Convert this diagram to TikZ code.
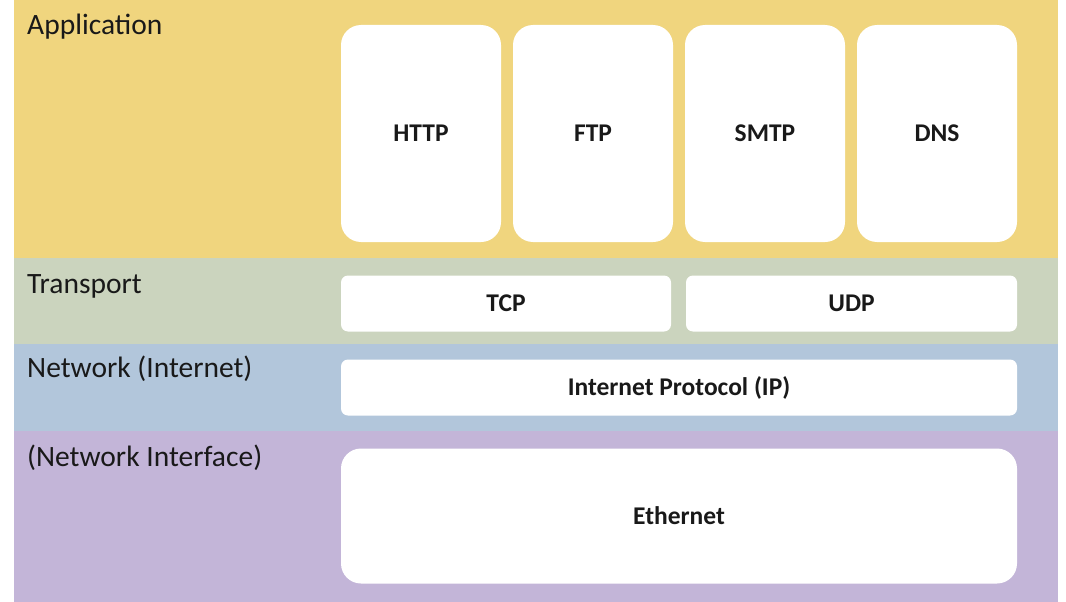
\documentclass[tikz,border=0pt]{standalone}
\usepackage{fontspec}
\setmainfont{Carlito}
\definecolor{appc}{RGB}{240,213,126}
\definecolor{trac}{RGB}{203,212,190}
\definecolor{netc}{RGB}{178,198,219}
\definecolor{ifc}{RGB}{195,181,216}
\begin{document}
\begin{tikzpicture}[x=1pt,y=-1pt,
  band/.style={fill=#1,draw=none},
  layerlabel/.style={anchor=base west,inner sep=0pt,font=\fontsize{29.5}{33}\selectfont,text=black!90},
  proto/.style={fill=white,draw=none,inner sep=0pt,font=\fontsize{25.5}{29}\selectfont\bfseries,text=black!90},
  bigbox/.style={proto,rounded corners=20pt},
  smallbox/.style={proto,rounded corners=7pt}]
\useasboundingbox (0,0) rectangle (1066,602);
% bands
\fill[band=appc] (14,0) rectangle (1058,258);
\fill[band=trac] (14,258) rectangle (1058,344);
\fill[band=netc] (14,344) rectangle (1058,431);
\fill[band=ifc] (14,431) rectangle (1058,602);
% layer labels
\node[layerlabel] (lapp) at (27,35) {Application};
\node[layerlabel] (ltra) at (27,293) {Transport};
\node[layerlabel] (lnet) at (27,377) {Network (Internet)};
\node[layerlabel] (lif) at (27,466) {(Network Interface)};
% application protocols
\node[bigbox,minimum width=160pt,minimum height=217pt] (http) at (421,133.5) {HTTP};
\node[bigbox,minimum width=160pt,minimum height=217pt] (ftp) at (593,133.5) {FTP};
\node[bigbox,minimum width=160pt,minimum height=217pt] (smtp) at (765,133.5) {SMTP};
\node[bigbox,minimum width=160pt,minimum height=217pt] (dns) at (937,133.5) {DNS};
% transport
\node[smallbox,minimum width=330pt,minimum height=56pt] (tcp) at (506,303.5) {TCP};
\node[smallbox,minimum width=331pt,minimum height=56pt] (udp) at (851.5,303.5) {UDP};
% network
\node[smallbox,minimum width=676pt,minimum height=56pt] (ip) at (679,387.5) {Internet Protocol (IP)};
% interface
\node[bigbox,minimum width=676pt,minimum height=135pt] (eth) at (679,516) {Ethernet};
\end{tikzpicture}
\end{document}
